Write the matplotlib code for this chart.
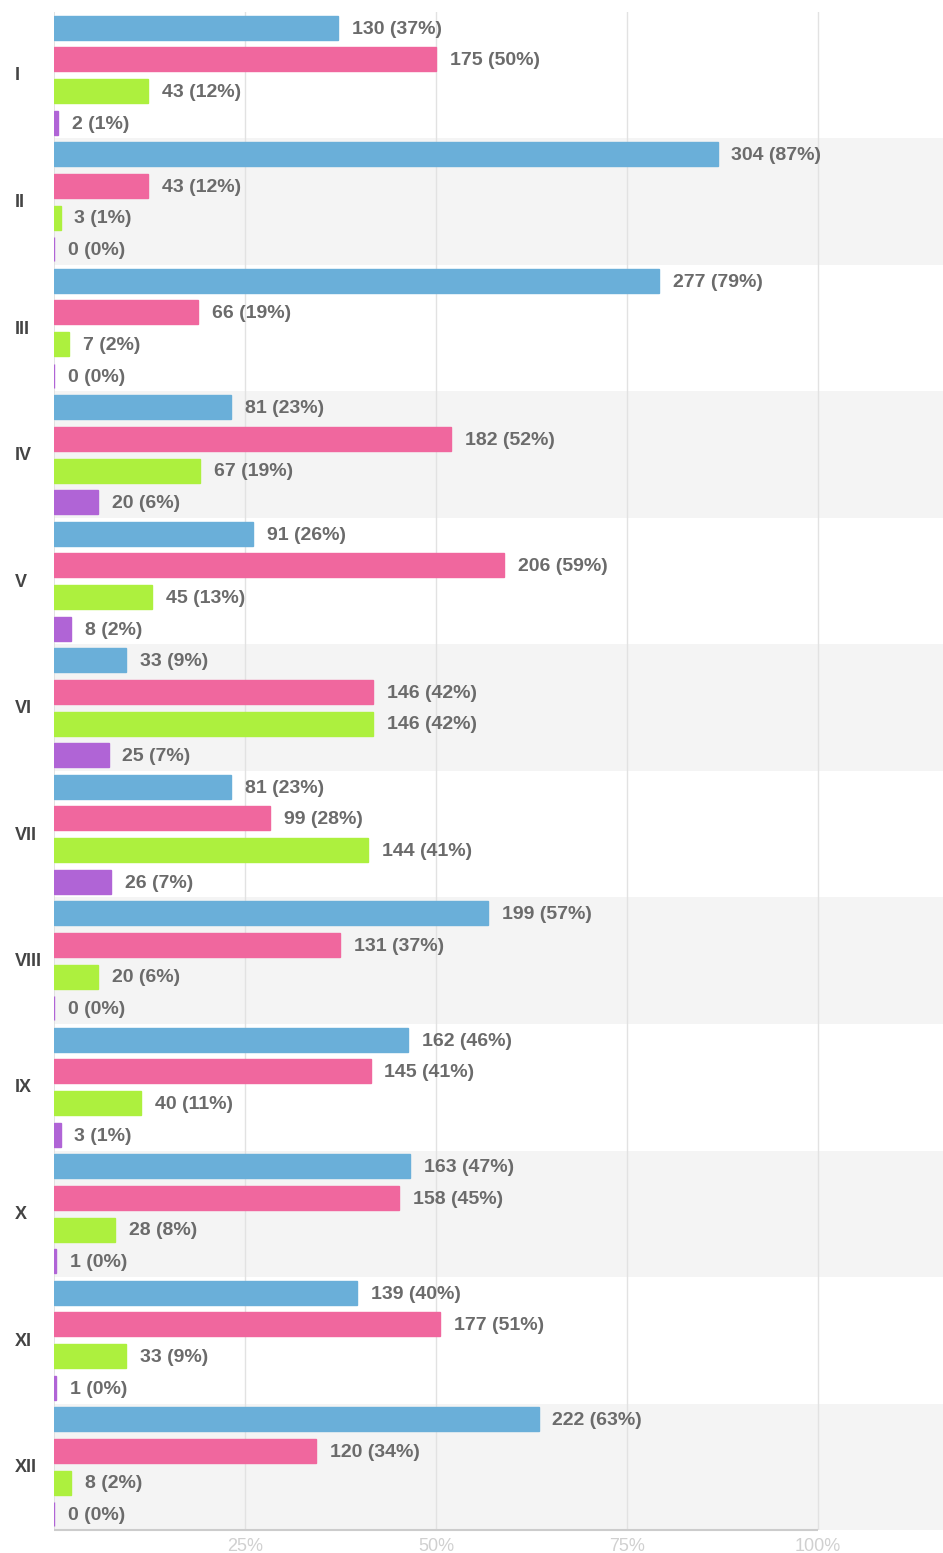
import matplotlib
matplotlib.use("Agg")

import matplotlib.pyplot as plt
from matplotlib import font_manager

categories = ["I", "II", "III", "IV", "V", "VI", "VII", "VIII", "IX", "X", "XI", "XII"]
series_a = [130, 304, 277, 81, 91, 33, 81, 199, 162, 163, 139, 222]
series_b = [175, 43, 66, 182, 206, 146, 99, 131, 145, 158, 177, 120]
series_c = [43, 3, 7, 67, 45, 146, 144, 20, 40, 28, 33, 8]
series_d = [2, 0, 0, 20, 8, 25, 26, 0, 3, 1, 1, 0]
percent_a = [37, 87, 79, 23, 26, 9, 23, 57, 46, 47, 40, 63]
percent_b = [50, 12, 19, 52, 59, 42, 28, 37, 41, 45, 51, 34]
percent_c = [12, 1, 2, 19, 13, 42, 41, 6, 11, 8, 9, 2]
percent_d = [1, 0, 0, 6, 2, 7, 7, 0, 1, 0, 0, 0]
total = 350
tick_labels = ["25%", "50%", "75%", "100%"]

colors = ["#6aafd9", "#f0679e", "#adf03e", "#b064d6"]

names = {f.name for f in font_manager.fontManager.ttflist}
family = "Liberation Sans Narrow" if "Liberation Sans Narrow" in names else "Liberation Sans"

fig = plt.figure(figsize=(9.43, 15.53), dpi=100)
ax = fig.add_axes([54 / 943, 23 / 1553, 889 / 943, 1518 / 1553])

n = len(categories)
ax.set_ylim(n * 4, 0)
ax.set_xlim(0, total * 889 / 764)

# alternating group bands
for g in range(n):
    if g % 2 == 1:
        ax.axhspan(g * 4, g * 4 + 4, color="#f4f4f4", zorder=0, lw=0)

for i in range(1, 5):
    ax.axvline(total * i / 4, color="#e2e2e2", lw=1, zorder=1)
ax.axvline(0, color="#dddddd", lw=1.2, zorder=1)
ax.hlines(n * 4, 0, total, color="#cccccc", lw=1.5, zorder=1, clip_on=False)

all_vals = [series_a, series_b, series_c, series_d]
all_pct = [percent_a, percent_b, percent_c, percent_d]
for k in range(4):
    ys = [g * 4 + k + 0.5 for g in range(n)]
    ax.barh(ys, all_vals[k], height=0.76, color=colors[k],
            edgecolor=colors[k], linewidth=1, zorder=2)
    for y, v, p in zip(ys, all_vals[k], all_pct[k]):
        ax.annotate(f"{v} ({p}%)", (v, y), xytext=(10, -1), textcoords="offset points",
                    ha="left", va="center", fontsize=14, color="#6b6b6b",
                    fontweight="bold", family=family, zorder=3)

for g, cat in enumerate(categories):
    fig.text(15 / 943, 1 - (12 + g * 126.5 + 64) / 1553, cat, ha="left", va="center",
             fontsize=13, color="#444444", fontweight="bold", family=family)

ax.set_yticks([])
ax.set_xticks([total * i / 4 for i in range(1, 5)])
ax.set_xticklabels(tick_labels, fontsize=13, color="#d0d0d0", family=family)
ax.tick_params(axis="x", length=0, pad=6)
for s in ax.spines.values():
    s.set_visible(False)

fig.savefig("out.png", dpi=100)
